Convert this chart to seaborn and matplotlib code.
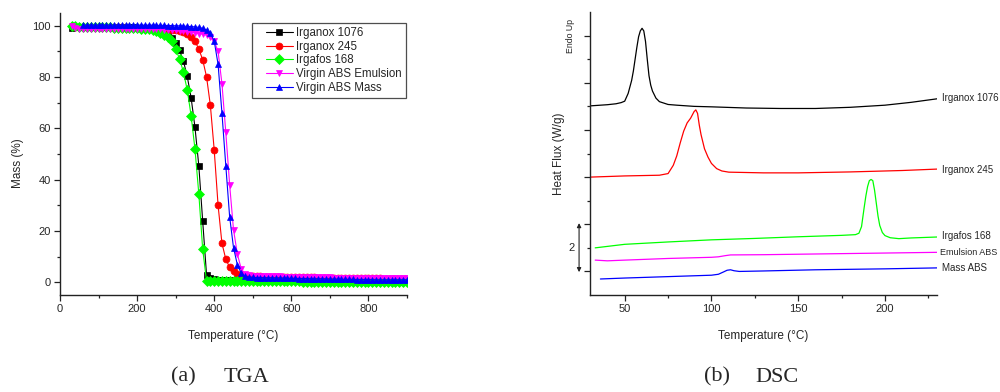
import numpy as np
import pandas as pd
import matplotlib
matplotlib.use("Agg")
import matplotlib.pyplot as plt
from matplotlib.ticker import MultipleLocator
from matplotlib.lines import Line2D
from matplotlib.legend_handler import HandlerLine2D
import seaborn as sns

# ---- TGA data (mass % vs temperature, every 10 C) ----
tga_temp = np.arange(30, 901, 10)
tga_names = ["Irganox 1076", "Irganox 245", "Irgafos 168",
             "Virgin ABS Emulsion", "Virgin ABS Mass"]

mass_irganox1076 = [
    99.3, 99.4, 99.5, 99.5, 99.5, 99.5, 99.5, 99.5, 99.5, 99.5,
    99.5, 99.5, 99.5, 99.5, 99.4, 99.4, 99.4, 99.3, 99.2, 99.1,
    99.0, 98.8, 98.5, 98.1, 97.5, 96.6, 95.3, 93.4, 90.4, 86.3,
    80.3, 72.0, 60.5, 45.5, 24.0, 3.0, 1.6, 1.1, 0.9, 0.8,
    0.7, 0.7, 0.6, 0.6, 0.6, 0.6, 0.5, 0.5, 0.5, 0.5,
    0.5, 0.5, 0.5, 0.5, 0.5, 0.5, 0.5, 0.5, 0.5, 0.5,
    0.4, 0.4, 0.4, 0.4, 0.4, 0.4, 0.4, 0.4, 0.4, 0.4,
    0.4, 0.4, 0.4, 0.4, 0.4, 0.4, 0.4, 0.4, 0.4, 0.4,
    0.3, 0.3, 0.3, 0.3, 0.3, 0.3, 0.3, 0.3]
mass_irganox245 = [
    99.8, 99.6, 99.5, 99.5, 99.5, 99.5, 99.5, 99.5, 99.5, 99.5,
    99.5, 99.5, 99.4, 99.4, 99.4, 99.3, 99.3, 99.3, 99.2, 99.2,
    99.1, 99.0, 99.0, 98.9, 98.8, 98.6, 98.4, 98.2, 97.8, 97.4,
    96.8, 95.8, 94.0, 91.0, 86.8, 80.2, 69.0, 51.5, 30.0, 15.2,
    9.0, 5.8, 4.3, 3.3, 2.9, 2.6, 2.5, 2.4, 2.3, 2.3,
    2.2, 2.2, 2.2, 2.1, 2.1, 2.1, 2.0, 2.0, 2.0, 2.0,
    1.9, 1.9, 1.9, 1.9, 1.8, 1.8, 1.8, 1.8, 1.7, 1.7,
    1.7, 1.7, 1.6, 1.6, 1.6, 1.6, 1.5, 1.5, 1.5, 1.5,
    1.5, 1.4, 1.4, 1.4, 1.4, 1.3, 1.3, 1.3]
mass_irgafos168 = [
    100.0, 99.8, 99.6, 99.5, 99.5, 99.5, 99.5, 99.4, 99.4, 99.4,
    99.4, 99.3, 99.3, 99.3, 99.2, 99.2, 99.1, 99.0, 98.9, 98.8,
    98.6, 98.3, 97.9, 97.3, 96.5, 95.6, 94.0, 90.8, 87.2, 82.0,
    75.0, 65.0, 52.0, 34.5, 13.0, 0.5, 0.4, 0.4, 0.3, 0.3,
    0.3, 0.3, 0.3, 0.3, 0.3, 0.3, 0.3, 0.3, 0.3, 0.3,
    0.3, 0.3, 0.3, 0.3, 0.3, 0.3, 0.3, 0.3, 0.3, 0.3,
    0.2, 0.2, 0.2, 0.2, 0.2, 0.2, 0.2, 0.2, 0.2, 0.2,
    0.2, 0.2, 0.2, 0.2, 0.2, 0.2, 0.2, 0.2, 0.2, 0.2,
    0.2, 0.2, 0.2, 0.2, 0.2, 0.2, 0.2, 0.2]
mass_abs_emulsion = [
    100.0, 99.2, 98.9, 98.8, 98.8, 98.8, 98.8, 98.8, 98.8, 98.8,
    98.8, 98.8, 98.8, 98.8, 98.8, 98.8, 98.8, 98.8, 98.7, 98.7,
    98.7, 98.7, 98.6, 98.6, 98.5, 98.4, 98.3, 98.2, 98.0, 97.9,
    97.7, 97.5, 97.3, 97.0, 96.8, 96.4, 95.5, 94.0, 90.0, 77.5,
    58.5, 38.0, 20.5, 11.0, 5.2, 3.2, 2.7, 2.5, 2.4, 2.4,
    2.4, 2.3, 2.3, 2.3, 2.3, 2.2, 2.2, 2.2, 2.2, 2.1,
    2.1, 2.1, 2.0, 2.0, 2.0, 1.9, 1.9, 1.9, 1.8, 1.8,
    1.8, 1.8, 1.7, 1.7, 1.7, 1.7, 1.6, 1.6, 1.6, 1.6,
    1.6, 1.5, 1.5, 1.5, 1.5, 1.5, 1.5, 1.5]
mass_abs_mass = [
    np.nan, np.nan, np.nan, 100.2, 100.3, 100.3, 100.3, 100.3, 100.3, 100.3,
    100.3, 100.3, 100.3, 100.3, 100.3, 100.3, 100.3, 100.3, 100.3, 100.3,
    100.3, 100.3, 100.2, 100.2, 100.2, 100.1, 100.1, 100.0, 100.0, 99.9,
    99.8, 99.7, 99.6, 99.4, 99.0, 98.4, 97.2, 94.0, 85.0, 66.0,
    45.5, 25.5, 13.5, 6.8, 3.5, 2.3, 2.0, 1.9, 1.8, 1.8,
    1.7, 1.7, 1.7, 1.6, 1.6, 1.6, 1.5, 1.5, 1.5, 1.4,
    1.4, 1.4, 1.3, 1.3, 1.3, 1.3, 1.2, 1.2, 1.2, 1.2,
    1.1, 1.1, 1.1, 1.1, 1.0, 1.0, 1.0, 1.0, 1.0, 0.9,
    0.9, 0.9, 0.9, 0.9, 0.9, 0.9, 0.9, 0.9]

tga_colors = ["#000000", "#ff0000", "#00ff00", "#ff00ff", "#0000ff"]
tga_markers = ["s", "o", "D", "v", "^"]

# ---- DSC data (offset heat flux, arbitrary units of 1 W/g per tick) ----
dsc_x_1076 = [30, 40, 45, 48, 50, 52, 54, 55, 56, 57, 58, 59, 60, 61, 62, 63,
              64, 65, 66, 68, 70, 75, 80, 90, 100, 120, 140, 160, 180, 200, 215, 230]
dsc_y_1076 = [8.02, 8.07, 8.11, 8.16, 8.22, 8.55, 9.1, 9.5, 10.0, 10.5, 10.95, 11.2,
              11.31, 11.2, 10.75, 10.0, 9.3, 8.9, 8.65, 8.35, 8.2, 8.08, 8.05, 8.0,
              7.98, 7.93, 7.91, 7.91, 7.96, 8.05, 8.17, 8.32]
dsc_x_245 = [30, 50, 70, 75, 78, 80, 82, 84, 86, 88, 90, 91, 92, 93, 94, 96, 98,
             100, 103, 106, 110, 130, 150, 180, 210, 230]
dsc_y_245 = [5.0, 5.05, 5.08, 5.15, 5.5, 5.9, 6.45, 6.95, 7.3, 7.5, 7.78, 7.85, 7.7,
             7.2, 6.8, 6.2, 5.85, 5.58, 5.36, 5.26, 5.21, 5.18, 5.18, 5.22, 5.28, 5.34]
dsc_x_168 = [33, 50, 75, 100, 125, 150, 175, 183, 185, 186.5, 188, 189, 190, 191,
             192, 193, 194, 195, 196, 197, 198.5, 200, 203, 208, 215, 230]
dsc_y_168 = [2.0, 2.15, 2.25, 2.34, 2.4, 2.47, 2.53, 2.56, 2.62, 2.9, 3.7, 4.2, 4.6,
             4.85, 4.9, 4.85, 4.45, 3.9, 3.35, 2.95, 2.65, 2.52, 2.43, 2.39, 2.42, 2.46]
dsc_x_emul = [33, 40, 50, 75, 100, 104, 108, 111, 130, 170, 200, 230]
dsc_y_emul = [1.48, 1.45, 1.48, 1.55, 1.6, 1.62, 1.67, 1.7, 1.71, 1.75, 1.78, 1.81]
dsc_x_mass = [36, 50, 75, 100, 104, 107, 109, 111, 113, 116, 130, 160, 200, 230]
dsc_y_mass = [0.68, 0.72, 0.78, 0.84, 0.88, 0.98, 1.05, 1.07, 1.03, 1.0, 1.02,
              1.07, 1.11, 1.15]

dsc_labels = ["Irganox 1076", "Irganox 245", "Irgafos 168", "Emulsion ABS", "Mass ABS"]
dsc_label_y = [8.35, 5.3, 2.51, 1.81, 1.13]
dsc_label_x = [233, 233, 233, 231.5, 232.6]
dsc_label_size = [7, 7, 7, 6.5, 7]


def style_axis(ax):
    sns.despine(ax=ax)
    for s in ["left", "bottom"]:
        ax.spines[s].set_color("#222222")
        ax.spines[s].set_linewidth(1.0)
    ax.tick_params(which="major", direction="out", length=4, width=0.9,
                   color="#222222", pad=2.5)
    ax.tick_params(which="minor", direction="out", length=2.5, width=0.9,
                   color="#222222")


sns.set_style("ticks")
plt.rcParams["font.family"] = ["Liberation Sans", "DejaVu Sans"]

fig = plt.figure(figsize=(10, 3.92), dpi=100)

# ---------------- TGA ----------------
ax1 = fig.add_axes([0.060, 0.2474, 0.347, 0.7194])
tga_series = [mass_irganox1076, mass_irganox245, mass_irgafos168,
              mass_abs_emulsion, mass_abs_mass]
for name, vals, col, mk in zip(tga_names, tga_series, tga_colors, tga_markers):
    df = pd.DataFrame({"T": tga_temp, "mass": vals}).dropna()
    sns.lineplot(data=df, x="T", y="mass", ax=ax1, color=col, marker=mk,
                 markersize=5, markeredgecolor=col, markeredgewidth=0.5,
                 linewidth=0.8, label=name, sort=False)

ax1.set_xlim(0, 900)
ax1.set_ylim(-5, 105)
ax1.xaxis.set_major_locator(MultipleLocator(200))
ax1.xaxis.set_minor_locator(MultipleLocator(100))
ax1.yaxis.set_major_locator(MultipleLocator(20))
ax1.yaxis.set_minor_locator(MultipleLocator(10))
style_axis(ax1)
ax1.tick_params(labelsize=8)
ax1.set_xlabel("Temperature (\u00b0C)", fontsize=8.5)
ax1.set_ylabel("Mass (%)", fontsize=8.5)
ax1.yaxis.set_label_coords(-0.104, 0.468)
ax1.xaxis.set_label_coords(0.5, -0.125)

leg = ax1.legend(loc="upper right", bbox_to_anchor=(0.997, 0.965), fontsize=8.3,
                 frameon=True, fancybox=False, edgecolor="#222222",
                 handlelength=3.2, handletextpad=0.3, labelspacing=0.15,
                 borderpad=0.35, borderaxespad=0.0,
                 handler_map={Line2D: HandlerLine2D(xpad=0.85)})
leg.get_frame().set_linewidth(0.9)

# ---------------- DSC ----------------
ax2 = fig.add_axes([0.590, 0.2474, 0.347, 0.7219])
dsc_xs = [dsc_x_1076, dsc_x_245, dsc_x_168, dsc_x_emul, dsc_x_mass]
dsc_ys = [dsc_y_1076, dsc_y_245, dsc_y_168, dsc_y_emul, dsc_y_mass]
for xs, ys, col in zip(dsc_xs, dsc_ys, tga_colors):
    sns.lineplot(x=xs, y=ys, ax=ax2, color=col, linewidth=0.9)

for lab, lx, ly, fs in zip(dsc_labels, dsc_label_x, dsc_label_y, dsc_label_size):
    ax2.text(lx, ly, lab, fontsize=fs, ha="left", va="center", clip_on=False)

ax2.set_xlim(30, 230)
ax2.set_ylim(0, 12)
ax2.xaxis.set_major_locator(MultipleLocator(50))
ax2.xaxis.set_minor_locator(MultipleLocator(25))
ax2.set_yticks([1, 3, 5, 7, 9, 11])
ax2.set_yticks([2, 4, 6, 8, 10], minor=True)
ax2.set_yticklabels([])
style_axis(ax2)
ax2.tick_params(labelsize=8)
ax2.set_xlabel("Temperature (\u00b0C)", fontsize=8.5)
ax2.set_ylabel("Heat Flux (W/g)", fontsize=8.5)
ax2.yaxis.set_label_coords(-0.072, 0.5)
ax2.xaxis.set_label_coords(0.5, -0.125)

ax2.text(19.0, 11.0, "Endo Up", fontsize=6.3, rotation=90, ha="center",
         va="center", clip_on=False)
ax2.annotate("", xy=(23.7, 0.97), xytext=(23.7, 3.05), annotation_clip=False,
             arrowprops=dict(arrowstyle="<|-|>", lw=0.8, color="#222222",
                             mutation_scale=6, shrinkA=0, shrinkB=0))
ax2.text(19.6, 2.0, "2", fontsize=8, ha="center", va="center", clip_on=False)

# ---------------- captions ----------------
cap_font = ["Liberation Serif", "DejaVu Serif"]
fig.text(0.183, 0.038, "(a)", fontsize=16, ha="center", va="center", family=cap_font)
fig.text(0.246, 0.038, "TGA", fontsize=16, ha="center", va="center", family=cap_font)
fig.text(0.717, 0.038, "(b)", fontsize=16, ha="center", va="center", family=cap_font)
fig.text(0.777, 0.038, "DSC", fontsize=16, ha="center", va="center", family=cap_font)

fig.savefig("out.png", dpi=100)
